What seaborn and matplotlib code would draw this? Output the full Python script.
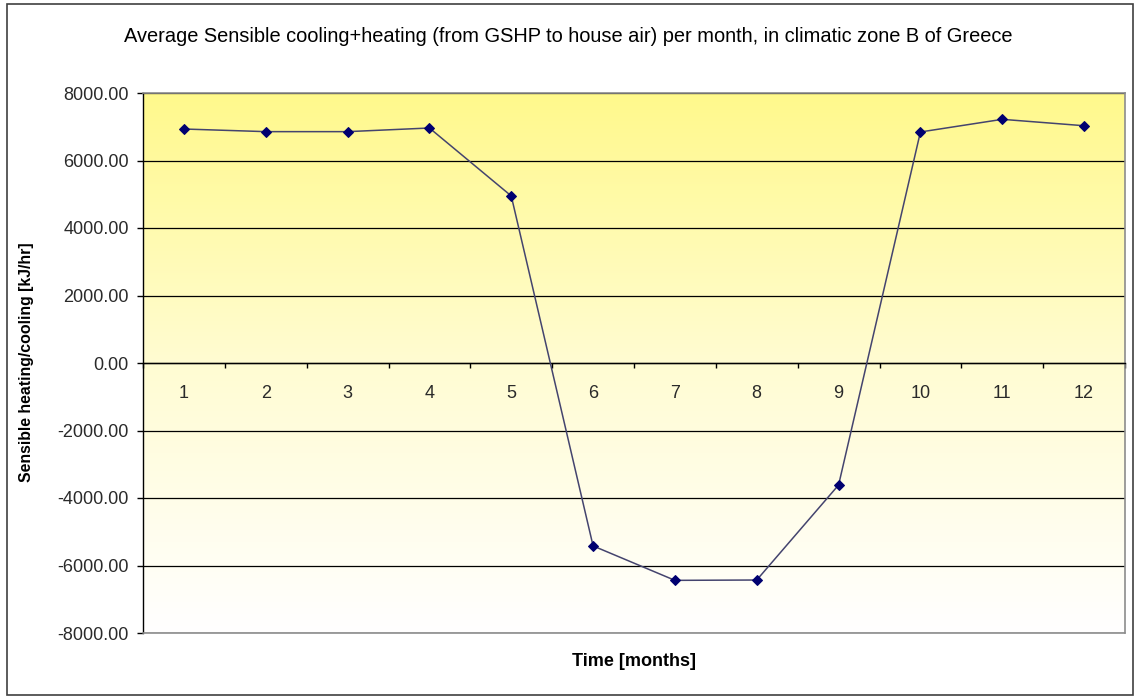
import numpy as np
import pandas as pd
import matplotlib
matplotlib.use("Agg")
import matplotlib.pyplot as plt
import matplotlib.patches as mpatches
from matplotlib.colors import LinearSegmentedColormap
from matplotlib.ticker import FixedLocator, FuncFormatter
import seaborn as sns

# Monthly average sensible heating (+) / cooling (-) delivered to the house air
months = [1, 2, 3, 4, 5, 6, 7, 8, 9, 10, 11, 12]
sensible_kj_hr = [6933, 6855, 6855, 6963, 4950, -5420, -6440, -6430, -3615, 6845, 7220, 7030]
y_ticks = [-8000, -6000, -4000, -2000, 0, 2000, 4000, 6000, 8000]

df = pd.DataFrame({"month": months, "sensible": sensible_kj_hr})

sns.set_theme(style="white")
plt.rcParams["font.family"] = ["Liberation Sans", "DejaVu Sans"]

fig = plt.figure(figsize=(11.35, 6.96), dpi=100)
fig.patch.set_facecolor("white")
ax = fig.add_axes([143 / 1135, 1 - 633 / 696, (1125 - 143) / 1135, (633 - 93) / 696])

# yellow-to-white vertical gradient behind the plot
grad_cmap = LinearSegmentedColormap.from_list("yw", ["#ffffff", "#fffcd2", "#fff98c"])
grad = np.linspace(0, 1, 256).reshape(-1, 1)
ax.imshow(grad, cmap=grad_cmap, aspect="auto", extent=[0, 1, 0, 1],
          origin="lower", transform=ax.transAxes, zorder=0)

sns.lineplot(data=df, x="month", y="sensible", ax=ax, color="#44446e",
             linewidth=1.1, marker="D", markersize=5.5,
             markerfacecolor="#000070", markeredgecolor="#000070", zorder=3)

ax.set_xlim(0.5, 12.5)
ax.set_ylim(-8000, 8000)

# horizontal gridlines
ax.set_yticks(y_ticks)
ax.yaxis.set_major_formatter(FuncFormatter(lambda v, p: f"{v:.2f}"))
ax.yaxis.grid(True, color="black", linewidth=0.9)
ax.set_axisbelow("line")
ax.xaxis.grid(False)

# category axis crossing at zero, ticks between categories
ax.spines["bottom"].set_position(("data", 0))
ax.spines["bottom"].set_color("black")
ax.spines["bottom"].set_linewidth(1.0)
ax.spines["left"].set_color("black")
ax.spines["left"].set_linewidth(1.0)
ax.spines["top"].set_color("#8c8c8c")
ax.spines["right"].set_color("#8c8c8c")
ax.spines["top"].set_linewidth(1.2)
ax.spines["right"].set_linewidth(1.2)

ax.set_xticks(months)
ax.set_xticklabels([str(m) for m in months])
ax.xaxis.set_minor_locator(FixedLocator(np.arange(0.5, 13.0, 1.0)))
ax.tick_params(axis="x", which="major", length=0, pad=15.5, labelsize=13,
               labelcolor="#2a2a2a")
ax.tick_params(axis="x", which="minor", bottom=True, direction="out",
               length=3.6, width=1.0, color="black")
ax.tick_params(axis="y", which="major", left=True, direction="out",
               length=4.3, width=1.0, color="black", pad=6, labelsize=13,
               labelcolor="#2a2a2a")

# bottom border of the plot area (axis spine sits at zero)
ax.plot([0, 1], [0, 0], transform=ax.transAxes, color="#8c8c8c",
        linewidth=1.2, clip_on=False, zorder=4)

ax.set_xlabel("")
ax.set_ylabel("")
fig.text(634 / 1135, 1 - 662 / 696, "Time [months]", ha="center", va="center",
         fontsize=13, fontweight="bold", color="black")
fig.text(27 / 1135, 1 - 362 / 696, "Sensible heating/cooling [kJ/hr]",
         ha="center", va="center", rotation=90, fontsize=11.4, fontweight="bold",
         color="black")
fig.text(568 / 1135, 1 - 37 / 696,
         "Average Sensible cooling+heating (from GSHP to house air) per month, in climatic zone B of Greece",
         ha="center", va="center", fontsize=14.4, color="black")

# chart frame
fig.patches.append(mpatches.Rectangle((7 / 1135, 1 / 696), 1126 / 1135, 691 / 696,
                                      transform=fig.transFigure, fill=False,
                                      edgecolor="#404040", linewidth=1.2))

fig.savefig("out.png", dpi=100)
